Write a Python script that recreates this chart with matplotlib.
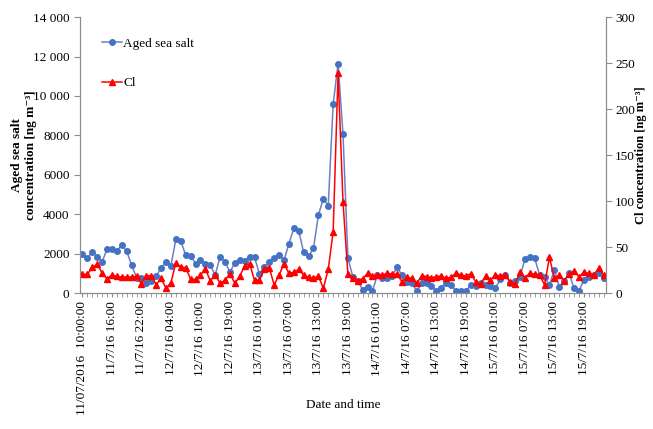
import matplotlib
matplotlib.use("Agg")
import matplotlib.pyplot as plt
from matplotlib.ticker import FuncFormatter, MultipleLocator, FixedLocator

plt.rcParams['font.family'] = ['Liberation Serif', 'DejaVu Serif']
plt.rcParams['font.size'] = 9.5

# hourly samples (category index), labels every 6th sample
aged_sea_salt = [
    1965, 1760, 2100, 1830, 1590, 2220, 2250, 2130, 2455, 2115,
    1420, 780, 745, 510, 610, 845, 1270, 1560, 1390, 2725,
    2640, 1930, 1896, 1490, 1660, 1456, 1420, 915, 1830, 1590,
    1050, 1540, 1660, 1640, 1845, 1810, 980, 1320, 1590, 1760,
    1930, 1660, 2505, 3285, 3150, 2065, 1860, 2270, 3960, 4790,
    4420, 9585, 11630, 8080, 1780, 830, 625, 170, 320, 100,
    915, 745, 780, 880, 1305, 915, 575, 490, 100, 490,
    490, 370, 100, 270, 490, 406, 85, 85, 85, 406,
    355, 490, 406, 355, 237, 695, 900, 525, 600, 830,
    1710, 1810, 1760, 915, 830, 406, 1170, 320, 625, 1000,
    237, 100, 660, 830, 915, 1000, 745,
]
cl = [
    20.3, 20.3, 27.9, 31.2, 21.7, 15.2, 19.6, 18.1, 17.4, 17.4,
    17.4, 18.1, 10.1, 18.8, 18.8, 9.1, 15.9, 5.1, 11.2, 33.0,
    27.9, 27.7, 14.9, 14.9, 19.6, 26.1, 13.4, 19.6, 10.5, 13.8,
    21.0, 10.5, 18.1, 29.7, 31.9, 13.8, 13.8, 26.1, 27.5, 8.7,
    19.6, 31.9, 21.4, 22.5, 25.7, 19.6, 17.0, 15.9, 18.5, 5.1,
    25.7, 66.7, 238.8, 99.3, 20.3, 16.7, 13.4, 15.6, 21.4, 18.5,
    19.6, 19.6, 21.4, 20.6, 20.3, 12.3, 17.0, 15.9, 10.5, 18.8,
    17.8, 16.7, 17.8, 18.5, 15.9, 17.4, 21.4, 19.6, 18.5, 21.0,
    12.3, 9.8, 18.5, 14.1, 19.6, 18.5, 19.6, 12.3, 9.8, 23.2,
    16.7, 21.4, 20.6, 19.6, 8.7, 38.8, 15.9, 19.6, 13.4, 20.6,
    23.9, 17.8, 22.5, 21.4, 19.6, 26.8, 19.6,
]
tick_labels = [
    "11/07/2016  10:00:00", "11/7/16 16:00", "11/7/16 22:00", "12/7/16 04:00",
    "12/7/16 10:00", "12/7/16 19:00", "13/7/16 01:00", "13/7/16 07:00",
    "13/7/16 13:00", "13/7/16 19:00", "14/7/16 01:00", "14/7/16 07:00",
    "14/7/16 13:00", "14/7/16 19:00", "15/7/16 01:00", "15/7/16 07:00",
    "15/7/16 13:00", "15/7/16 19:00",
]
label_step = 6

x = list(range(len(aged_sea_salt)))
axis_grey = "#8c8c8c"

fig = plt.figure(figsize=(6.53, 4.29), dpi=100)
ax = fig.add_axes([0.1225, 0.317, 0.8055, 0.643])
ax2 = ax.twinx()

l1, = ax.plot(x, aged_sea_salt, color="#6f7fc4", lw=1.1, marker="o", ms=4,
              mfc="#4472c4", mec="#4472c4", label="Aged sea salt")
l2, = ax2.plot(x, cl, color="#ff0000", lw=1.1, marker="^", ms=4.5,
               mfc="#ff0000", mec="#ff0000", label="Cl")

ax.set_xlim(-0.5, len(x) - 0.5)
ax.set_ylim(0, 14000)
ax2.set_ylim(0, 300)
ax.yaxis.set_major_locator(MultipleLocator(2000))
ax2.yaxis.set_major_locator(MultipleLocator(50))
ax.yaxis.set_major_formatter(FuncFormatter(
    lambda v, p: f"{int(v):,}".replace(",", " ") if v >= 10000 else f"{int(v)}"))

ax.xaxis.set_major_locator(FixedLocator(x[::label_step]))
ax.set_xticklabels(tick_labels, rotation=90)
ax.xaxis.set_minor_locator(FixedLocator(x))
ax.tick_params(axis="x", which="both", length=3, color=axis_grey, pad=3)
ax.tick_params(axis="y", length=4, color=axis_grey)
ax2.tick_params(axis="y", length=4, color=axis_grey, pad=2.5)

for a in (ax, ax2):
    for s in a.spines.values():
        s.set_color(axis_grey)
    a.spines["top"].set_visible(False)

ax.set_xlabel("Date and time")
ax.xaxis.set_label_coords(0.5, -0.385)
ax.set_ylabel("Aged sea salt\nconcentration [ng m⁻³]", fontweight="bold",
              linespacing=1.25)
ax.yaxis.set_label_coords(-0.081, 0.5)
ax2.set_ylabel("Cl concentration [ng m⁻³]", fontweight="bold", fontsize=9)
ax2.yaxis.set_label_coords(1.055, 0.5)

ax2.legend(handles=[l1, l2], loc="upper left", bbox_to_anchor=(0.02, 0.97),
           frameon=False, handlelength=1.5, handletextpad=0.1, labelspacing=2.1)

fig.savefig("out.png", dpi=100)
